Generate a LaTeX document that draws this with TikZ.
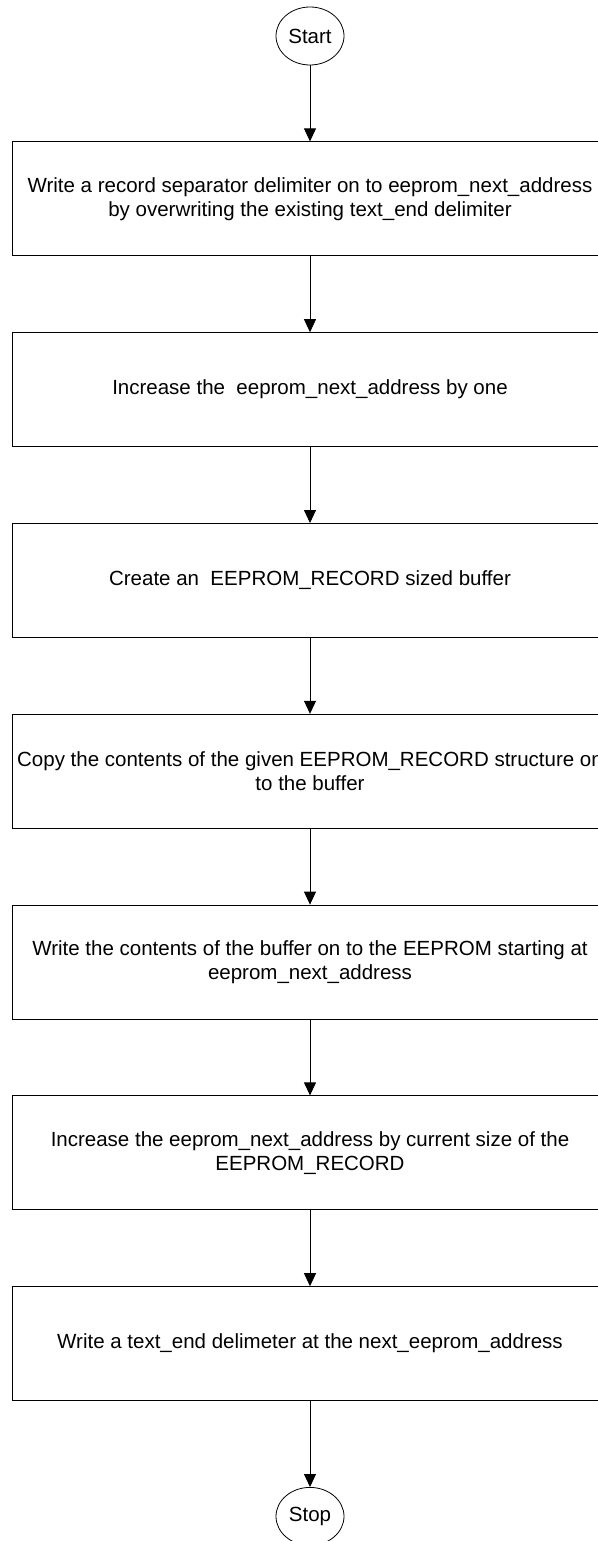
\documentclass[tikz,border=0pt]{standalone}
\usepackage{fontspec}
\setmainfont{Liberation Sans}
\usetikzlibrary{positioning,arrows.meta,shapes.geometric}

\begin{document}
\begin{tikzpicture}[
x=1pt,y=1pt,
node distance=76pt,
font=\fontsize{20.5}{24}\selectfont,
box/.style={draw,line width=0.8pt,minimum width=596pt,minimum height=114pt,inner sep=0pt,align=center},
term/.style={draw,ellipse,line width=0.8pt,minimum width=68pt,minimum height=58pt,inner sep=0pt},
>={Triangle[width=12pt,length=13pt]}
]
\useasboundingbox (0,0) rectangle (597,-1541);
\node[term] (start) at (310,-36) {Start};
\node[box,below=of start] (sep) {Write a record separator delimiter on to eeprom\_next\_address\\by overwriting the existing text\_end delimiter};
\node[box,below=of sep] (inc) {Increase the \ eeprom\_next\_address by one};
\node[box,below=of inc] (buf) {Create an \ EEPROM\_RECORD sized buffer};
\node[box,below=of buf] (copy) {Copy the contents of the given EEPROM\_RECORD structure on\\to the buffer};
\node[box,below=of copy] (wr) {Write the contents of the buffer on to the EEPROM starting at\\eeprom\_next\_address};
\node[box,below=of wr] (incsz) {Increase the eeprom\_next\_address by current size of the\\EEPROM\_RECORD};
\node[box,below=of incsz] (txt) {Write a text\_end delimeter at the next\_eeprom\_address};
\node[term,below=86pt of txt] (stop) {Stop};

\draw[->,line width=0.8pt] (start)--(sep);
\draw[->,line width=0.8pt] (sep)--(inc);
\draw[->,line width=0.8pt] (inc)--(buf);
\draw[->,line width=0.8pt] (buf)--(copy);
\draw[->,line width=0.8pt] (copy)--(wr);
\draw[->,line width=0.8pt] (wr)--(incsz);
\draw[->,line width=0.8pt] (incsz)--(txt);
\draw[->,line width=0.8pt] (txt)--(stop);
\end{tikzpicture}
\end{document}
